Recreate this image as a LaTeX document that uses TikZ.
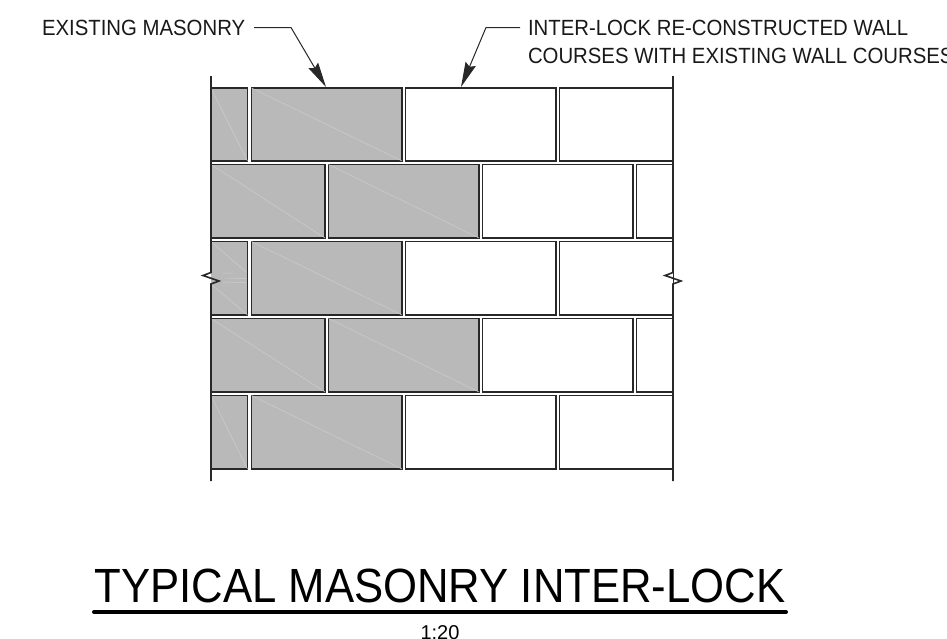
\documentclass[tikz,border=0pt]{standalone}
\usepackage{fontspec}
\setmainfont{Liberation Sans}
\newfontfamily\notefont[FakeStretch=0.925]{Liberation Sans}
\newfontfamily\titlefont[FakeStretch=0.91]{Liberation Sans}
\usetikzlibrary{arrows.meta}
\definecolor{masonry}{RGB}{185,185,185}
\definecolor{hatchline}{RGB}{205,205,205}
\definecolor{ink}{RGB}{40,40,40}
\tikzset{
  newbrick/.style={draw=ink,line width=1.3pt,fill=white,inner sep=0pt,outer sep=0pt},
  oldbrick/.style={newbrick,fill=masonry},
  walledge/.style={draw=ink,line width=1.6pt,line join=miter},
  leader/.style={draw=ink,line width=1pt,-{Stealth[length=25pt,width=11pt,inset=3pt]}},
  note/.style={font=\notefont\fontsize{22}{27.5}\selectfont,inner sep=0pt,outer sep=0pt,anchor=base west,text=black!90},
  diag/.style={draw=hatchline,line width=.5pt}
}
\newcommand{\brk}[6]{% style,name,x1,y1,x2,y2
  \pgfmathsetmacro{\bw}{#5-#3}\pgfmathsetmacro{\bh}{#6-#4}
  \node[#1,minimum width=\bw pt,minimum height=\bh pt,anchor=north west] (#2) at (#3,#4) {};
}
\newcommand{\oldbrk}[5]{%
  \brk{oldbrick}{#1}{#2}{#3}{#4}{#5}
  \draw[diag] (#1.north west) -- (#1.south east);
}
\begin{document}
\begin{tikzpicture}[x=1pt,y=-1pt]
\useasboundingbox (0,0) rectangle (947,638);
% row 1
\oldbrk{a1}{211}{88}{247.5}{161}
\oldbrk{a2}{251.5}{88}{402}{161}
\brk{newbrick}{a3}{405.5}{88}{556}{161}
\brk{newbrick}{a4}{559.5}{88}{673}{161}
% row 2
\oldbrk{b1}{211}{164.5}{325}{238}
\oldbrk{b2}{328.5}{164.5}{479}{238}
\brk{newbrick}{b3}{482.5}{164.5}{633}{238}
\brk{newbrick}{b4}{636.5}{164.5}{673}{238}
% row 3
\brk{oldbrick}{c1}{211}{241.5}{247.5}{315}
\oldbrk{c2}{251.5}{241.5}{402}{315}
\brk{newbrick}{c3}{405.5}{241.5}{556}{315}
\brk{newbrick}{c4}{559.5}{241.5}{673}{315}
\draw[diag] (c1.north west) -- (246,272) (212,285) -- (c1.south east);
\draw[diag] (223,273) -- (233,273) (227,278) -- (246,278.5) (223,282) -- (246,282.5);
% row 4
\oldbrk{d1}{211}{318.5}{325}{392}
\oldbrk{d2}{328.5}{318.5}{479}{392}
\brk{newbrick}{d3}{482.5}{318.5}{633}{392}
\brk{newbrick}{d4}{636.5}{318.5}{673}{392}
% row 5
\oldbrk{e1}{211}{395.5}{247.5}{469}
\oldbrk{e2}{251.5}{395.5}{402}{469}
\brk{newbrick}{e3}{405.5}{395.5}{556}{469}
\brk{newbrick}{e4}{559.5}{395.5}{673}{469}
% wall edges with break marks
\coordinate (ltop) at (211,76); \coordinate (lbot) at (211,481);
\coordinate (rtop) at (673,76); \coordinate (rbot) at (673,481);
\draw[masonry,line width=2.5pt] (211.8,273) -- (211.8,284);
\draw[white,line width=2.5pt] (672.2,273) -- (672.2,284);
\fill[white] (209,273) rectangle (210.5,284);
\fill[white] (673.6,273) rectangle (675,284);
\draw[walledge] (ltop) -- (211,272.5) -- (203,275.5) -- (219,281) -- (211,284) -- (lbot);
\draw[walledge] (rtop) -- (673,272.5) -- (665,275.5) -- (681,281) -- (673,284) -- (rbot);
% notes
\node[note] (existing) at (42,35.5) {EXISTING MASONRY};
\node[note] (interlock1) at (528,35.5) {INTER-LOCK RE-CONSTRUCTED WALL};
\node[note] (interlock2) at (528,63) {COURSES WITH EXISTING WALL COURSES};
\coordinate (knee1) at (291,27.5); \coordinate (tip1) at (326,87);
\coordinate (knee2) at (486,27.5); \coordinate (tip2) at (461,87);
\coordinate (start1) at (254,27.5); \coordinate (start2) at (520,27.5);
\draw[leader] (start1) -- (knee1) -- (tip1);
\draw[leader] (start2) -- (knee2) -- (tip2);
% title
\node[inner sep=0pt,outer sep=0pt,anchor=base,font=\titlefont\fontsize{48}{48}\selectfont] (title) at (440,602.5) {TYPICAL MASONRY INTER-LOCK};
\coordinate (ruleL) at (94,612); \coordinate (ruleR) at (786,612);
\draw[line width=4pt,line cap=round] (ruleL) -- (ruleR);
\node[inner sep=0pt,outer sep=0pt,anchor=base,font=\fontsize{20}{20}\selectfont] (scale) at (440,639.5) {1:20};
\end{tikzpicture}
\end{document}
